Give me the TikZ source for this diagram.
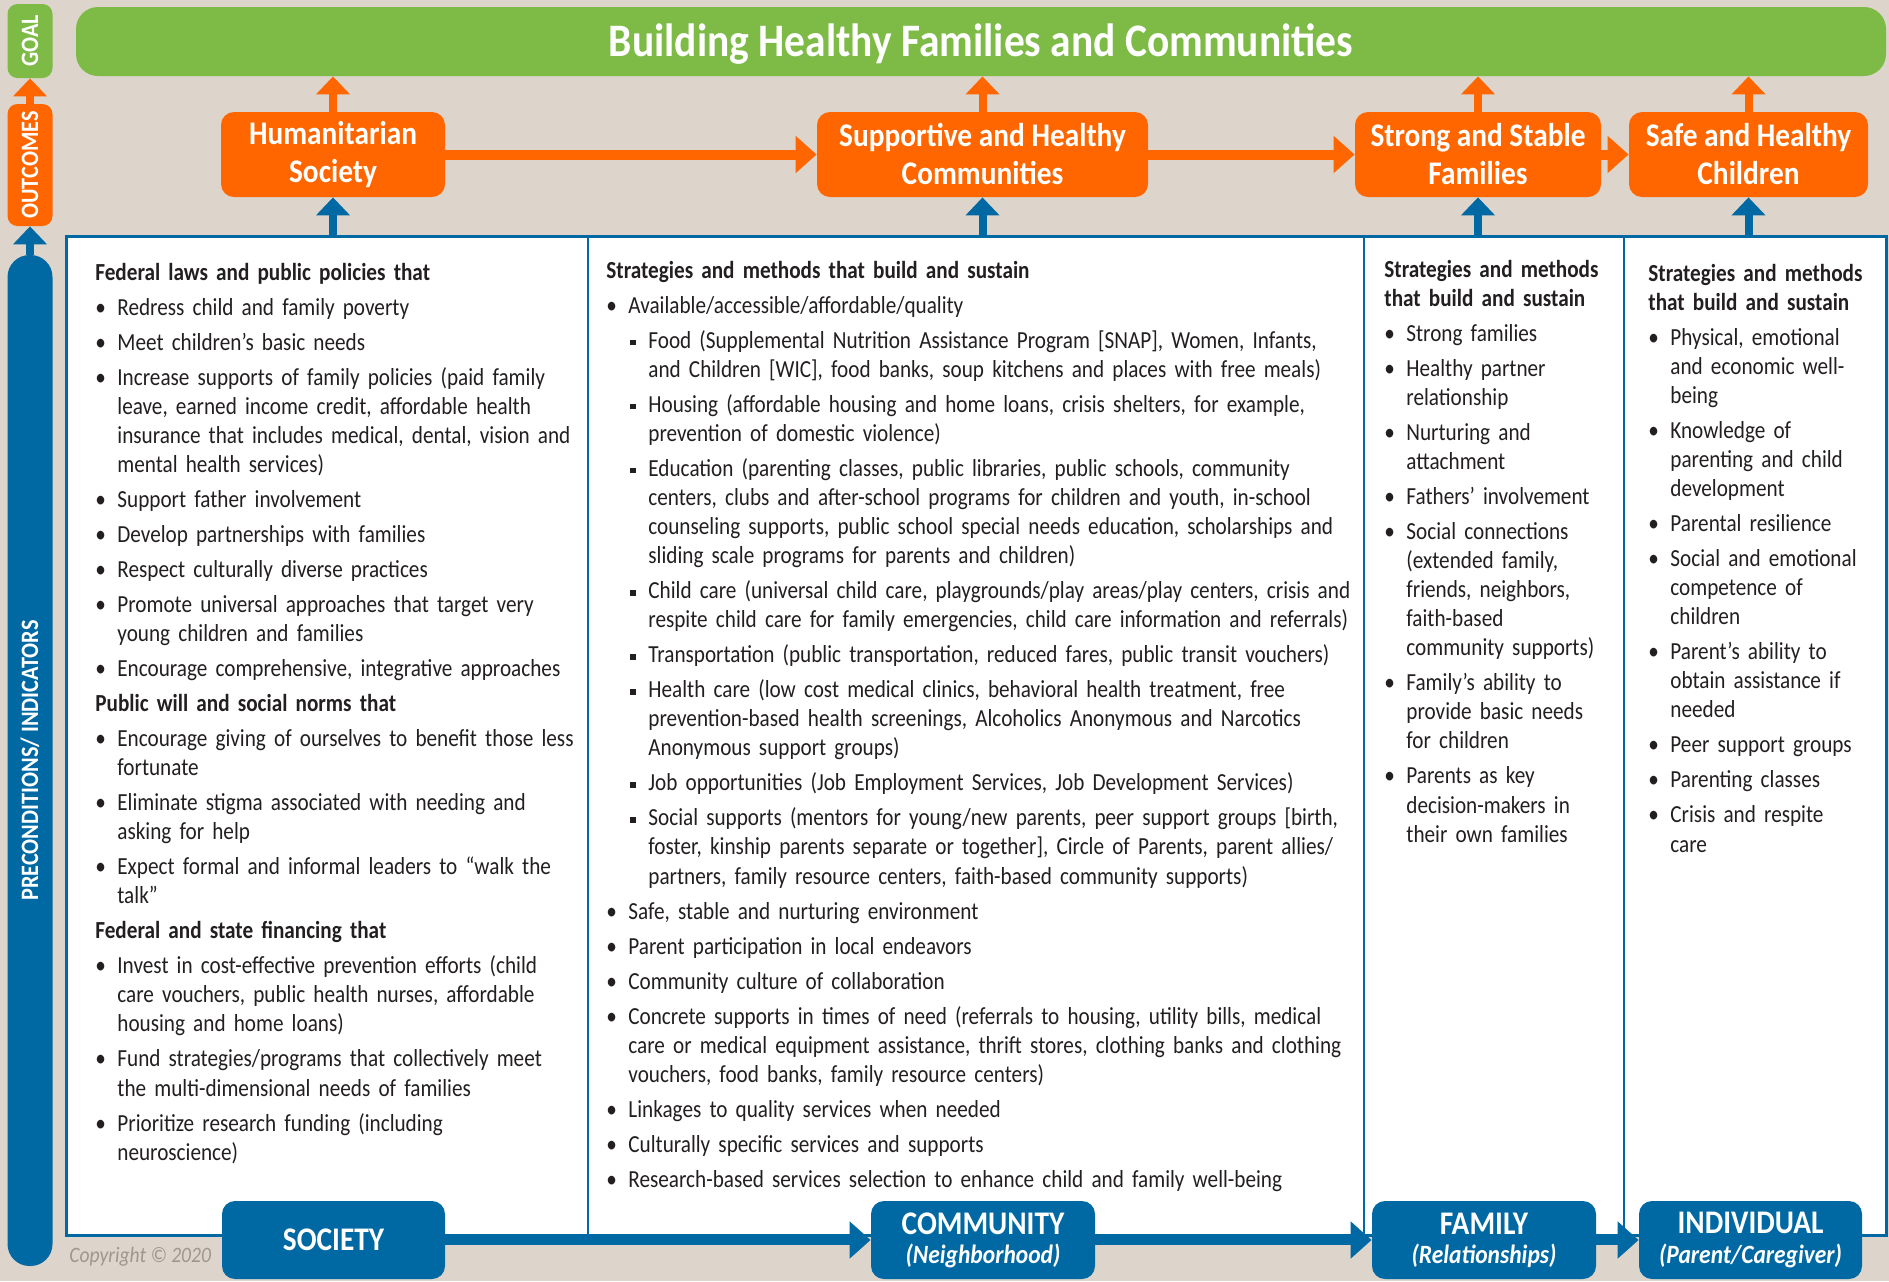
\documentclass[tikz,border=0pt]{standalone}
\usepackage{fontspec}
\setmainfont{Carlito}[FakeStretch=0.89]
\newfontfamily\bodyfont{Carlito}[FakeStretch=0.865]
\usepackage{tikz}
\usetikzlibrary{arrows.meta}
\definecolor{bgbeige}{RGB}{221,213,203}
\definecolor{goalgreen}{RGB}{125,186,70}
\definecolor{outorange}{RGB}{255,102,0}
\definecolor{levblue}{RGB}{0,104,163}
\definecolor{bodytext}{RGB}{35,31,32}
\definecolor{copygray}{RGB}{160,150,140}
\tikzset{
	% Boxes: outcome row (orange), level row (blue), side tags
	outcome node/.style={rounded corners=6.5pt,fill=outorange,text=white,align=center,inner sep=0,font=\fontsize{16.5}{19}\selectfont\bfseries},
	level node/.style={rounded corners=6.5pt,fill=levblue,text=white,align=center,inner sep=0,minimum height=39pt,font=\fontsize{16.5}{14.5}\selectfont\bfseries},
	tag node/.style={rounded corners=5pt,text=white,rotate=90,inner sep=0,minimum height=22.5pt,font=\fontsize{12.5}{14}\selectfont\bfseries},
	column node/.style={anchor=base west,inner sep=0,text=bodytext,font=\bodyfont\fontsize{12.25}{14.55}\selectfont},
	up arrow/.style={line width=4pt,-{Triangle[width=16.5pt,length=9pt]}},
	side arrow/.style={line width=5pt,-{Triangle[width=18pt,length=10.5pt]}}
}

\begin{document}
\begin{tikzpicture}[x=0.5pt,y=-0.5pt]
	% macros for the lists in the columns
	\newcommand{\colhead}[1]{\par\vspace{2.95pt}\noindent\textbf{#1}}
	\newcommand{\bitem}[1]{\par\vspace{2.95pt}\hangindent=11pt\hangafter=1\noindent\makebox[11pt][l]{\textbullet}#1}
	\newcommand{\sitem}[1]{\par\vspace{2.95pt}\hangindent=21pt\hangafter=1\noindent\makebox[21pt][l]{\hspace{12pt}\rule[1.5pt]{2.7pt}{2.7pt}}#1}
	\newcommand{\levsub}[1]{{\fontsize{13.2}{14.5}\selectfont\bfseries\itshape #1}}
	
	\useasboundingbox (0,0) rectangle (1889,1281);
	\fill[bgbeige] (0,0) rectangle (1889,1281);
	
	% goal bar
	\node (goal) [fill=goalgreen,rounded corners=11pt,minimum width=905pt,minimum height=34.5pt,inner sep=0,text depth=0.1em,text=white,font=\fontsize{23.3}{26}\selectfont\bfseries] at (981,41.5) {Building Healthy Families and Communities};
	
	% tags at the left
	\node (goal-tag) [tag node,fill=goalgreen,minimum width=37pt] at (30,41) {GOAL};
	\node (out-tag) [tag node,fill=outorange,minimum width=61pt] at (30,165) {OUTCOMES};
	\node (pre-tag) [tag node,fill=levblue,minimum width=505.5pt,rounded corners=11pt] at (30,760.5) {PRECONDITIONS/ INDICATORS};
	\draw[up arrow,outorange] (out-tag) -- (goal-tag);
	\draw[up arrow,levblue] (pre-tag) -- (out-tag);
	
	% outcomes
	\node (out-1) [outcome node,minimum width=112pt,minimum height=42.5pt] at (333,154.5) {Humanitarian\\Society};
	\node (out-2) [outcome node,minimum width=165.5pt,minimum height=42.5pt] at (982.5,154.5) {Supportive and Healthy\\Communities};
	\node (out-3) [outcome node,minimum width=123pt,minimum height=42.5pt] at (1478,154.5) {Strong and Stable\\Families};
	\node (out-4) [outcome node,minimum width=119.5pt,minimum height=42.5pt] at (1748.5,154.5) {Safe and Healthy\\Children};
	\draw[side arrow,outorange] (out-1) -- (out-2);
	\draw[side arrow,outorange] (out-2) -- (out-3);
	\draw[side arrow,outorange] (out-3) -- (out-4);
	\foreach \n in {1,2,3,4}
		\draw[up arrow,outorange] (out-\n) -- (out-\n |- goal.south);
	
	% white panel with four columns
	\node (panel) [draw=levblue,line width=1.5pt,fill=white,minimum width=910pt,minimum height=499.5pt,inner sep=0] at (976,735.5) {};
	\foreach \x in {588,1364,1624}
		\draw[levblue,line width=1pt] (\x,236) -- (\x,1235);
	\foreach \n in {1,2,3,4}
		\draw[up arrow,levblue] (out-\n |- panel.north) -- (out-\n);
	
	\node (col-1) [column node,text width=260pt] at (95,280) {%
		\textbf{Federal laws and public policies that}
		\bitem{Redress child and family poverty}
		\bitem{Meet children’s basic needs}
		\bitem{Increase supports of family policies (paid family\newline leave, earned income credit, affordable health\newline insurance that includes medical, dental, vision and\newline mental health services)}
		\bitem{Support father involvement}
		\bitem{Develop partnerships with families}
		\bitem{Respect culturally diverse practices}
		\bitem{Promote universal approaches that target very\newline young children and families}
		\bitem{Encourage comprehensive, integrative approaches}
		\colhead{Public will and social norms that}
		\bitem{Encourage giving of ourselves to benefit those less\newline fortunate}
		\bitem{Eliminate stigma associated with needing and\newline asking for help}
		\bitem{Expect formal and informal leaders to “walk the\newline talk”}
		\colhead{Federal and state financing that}
		\bitem{Invest in cost-effective prevention efforts (child\newline care vouchers, public health nurses, affordable\newline housing and home loans)}
		\bitem{Fund strategies/programs that collectively meet\newline the multi-dimensional needs of families}
		\bitem{Prioritize research funding (including\newline neuroscience)}\par};
	
	\node (col-2) [column node,text width=390pt] at (606,278) {%
		\textbf{Strategies and methods that build and sustain}
		\bitem{Available/accessible/affordable/quality}
		\sitem{Food (Supplemental Nutrition Assistance Program [SNAP], Women, Infants,\newline and Children [WIC], food banks, soup kitchens and places with free meals)}
		\sitem{Housing (affordable housing and home loans, crisis shelters, for example,\newline prevention of domestic violence)}
		\sitem{Education (parenting classes, public libraries, public schools, community\newline centers, clubs and after-school programs for children and youth, in-school\newline counseling supports, public school special needs education, scholarships and\newline sliding scale programs for parents and children)}
		\sitem{Child care (universal child care, playgrounds/play areas/play centers, crisis and\newline respite child care for family emergencies, child care information and referrals)}
		\sitem{Transportation (public transportation, reduced fares, public transit vouchers)}
		\sitem{Health care (low cost medical clinics, behavioral health treatment, free\newline prevention-based health screenings, Alcoholics Anonymous and Narcotics\newline Anonymous support groups)}
		\sitem{Job opportunities (Job Employment Services, Job Development Services)}
		\sitem{Social supports (mentors for young/new parents, peer support groups [birth,\newline foster, kinship parents separate or together], Circle of Parents, parent allies/\newline partners, family resource centers, faith-based community supports)}
		\bitem{Safe, stable and nurturing environment}
		\bitem{Parent participation in local endeavors}
		\bitem{Community culture of collaboration}
		\bitem{Concrete supports in times of need (referrals to housing, utility bills, medical\newline care or medical equipment assistance, thrift stores, clothing banks and clothing\newline vouchers, food banks, family resource centers)}
		\bitem{Linkages to quality services when needed}
		\bitem{Culturally specific services and supports}
		\bitem{Research-based services selection to enhance child and family well-being}\par};
	
	\node (col-3) [column node,text width=125pt] at (1384,277) {%
		\textbf{Strategies and methods\newline that build and sustain}
		\bitem{Strong families}
		\bitem{Healthy partner\newline relationship}
		\bitem{Nurturing and\newline attachment}
		\bitem{Fathers’ involvement}
		\bitem{Social connections\newline (extended family,\newline friends, neighbors,\newline faith-based\newline community supports)}
		\bitem{Family’s ability to\newline provide basic needs\newline for children}
		\bitem{Parents as key\newline decision-makers in\newline their own families}\par};
	
	\node (col-4) [column node,text width=118pt] at (1648,281) {%
		\textbf{Strategies and methods\newline that build and sustain}
		\bitem{Physical, emotional\newline and economic well-\newline being}
		\bitem{Knowledge of\newline parenting and child\newline development}
		\bitem{Parental resilience}
		\bitem{Social and emotional\newline competence of\newline children}
		\bitem{Parent’s ability to\newline obtain assistance if\newline needed}
		\bitem{Peer support groups}
		\bitem{Parenting classes}
		\bitem{Crisis and respite\newline care}\par};
	
	% levels along the bottom
	\node (lev-1) [level node,minimum width=111.5pt] at (333.5,1240) {SOCIETY};
	\node (lev-2) [level node,minimum width=112pt] at (983,1240) {COMMUNITY\\\levsub{(Neighborhood)}};
	\node (lev-3) [level node,minimum width=112pt] at (1484,1240) {FAMILY\\\levsub{(Relationships)}};
	\node (lev-4) [level node,minimum width=111.5pt] at (1750.5,1240) {INDIVIDUAL\\\levsub{(Parent/Caregiver)}};
	\draw[side arrow,levblue] (lev-1) -- (lev-2);
	\draw[side arrow,levblue] (lev-2) -- (lev-3);
	\draw[side arrow,levblue] (lev-3) -- (lev-4);
	
	\node (copy) [anchor=base west,inner sep=0,text=copygray,font=\fontsize{11}{13}\selectfont\itshape] at (69,1262) {Copyright © 2020};
\end{tikzpicture}
\end{document}
